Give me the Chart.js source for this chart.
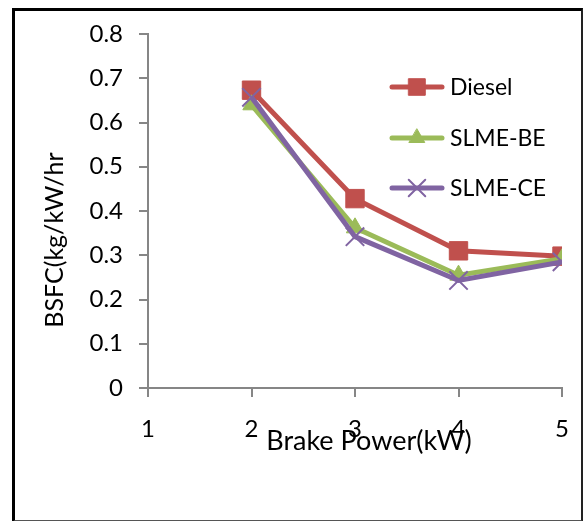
<!DOCTYPE html>
<html>
<head>
<meta charset="utf-8">
<script src="https://cdn.jsdelivr.net/npm/chart.js@4.4.1/dist/chart.umd.min.js"></script>
<style>
  body { margin: 0; background: #fff; }
  #frame {
    position: absolute; left: 12px; top: 8px; width: 571px; height: 514px;
    box-sizing: border-box;
    border-left: 3px solid #000; border-top: 3px solid #000;
    border-right: 2px solid #222; border-bottom: 2px solid #555;
  }
  #chart { position: absolute; left: 0; top: 0; }
</style>
</head>
<body>
<div id="frame"></div>
<canvas id="chart" width="584" height="521"></canvas>
<script>
const brakePower = [2, 3, 4, 5];
const diesel = [0.673, 0.428, 0.31, 0.298];
const slmeBE = [0.64, 0.362, 0.255, 0.292];
const slmeCE = [0.657, 0.342, 0.243, 0.285];
const seriesNames = ["Diesel", "SLME-BE", "SLME-CE"];
const xTickValues = [1, 2, 3, 4, 5];
const yTickValues = [0, 0.1, 0.2, 0.3, 0.4, 0.5, 0.6, 0.7, 0.8];
const xTitle = "Brake Power(kW)";
const yTitle = "BSFC(kg/kW/hr";

const FONT = "Lato, Carlito, Calibri, sans-serif";
const AXIS_GRAY = "#868686";

function toPoints(values) {
  return values.map((v, i) => ({ x: brakePower[i], y: v }));
}

const styles = [
  { color: "#C0504D", pointStyle: "rect", pointRadius: 13, order: 3 },
  { color: "#9BBB59", pointStyle: "triangle", pointRadius: 10, order: 2 },
  { color: "#8064A2", pointStyle: "crossRot", pointRadius: 13, order: 1 }
];
const seriesValues = [diesel, slmeBE, slmeCE];

const datasets = seriesValues.map((vals, i) => ({
  label: seriesNames[i],
  data: toPoints(vals),
  borderColor: styles[i].color,
  backgroundColor: styles[i].color,
  borderWidth: 5,
  pointStyle: styles[i].pointStyle,
  pointRadius: styles[i].pointRadius,
  pointBorderWidth: styles[i].pointStyle === "crossRot" ? 2 : 1,
  pointBorderColor: styles[i].color,
  pointBackgroundColor: styles[i].color,
  order: styles[i].order,
  tension: 0
}));

// legend inside the plot + axis titles placed like the Excel original
const overlay = {
  id: "overlay",
  afterDraw(chart) {
    const ctx = chart.ctx;
    ctx.save();
    ctx.fillStyle = "#000";
    ctx.textAlign = "center";
    ctx.textBaseline = "middle";
    ctx.font = "27px " + FONT;
    ctx.fillText(xTitle, 369, 441);
    ctx.font = "25px " + FONT;
    ctx.translate(55, 240);
    ctx.rotate(-Math.PI / 2);
    ctx.fillText(yTitle, 0, 0);
    ctx.restore();

    const legendY = [87, 138, 188];
    chart.data.datasets.forEach((ds, i) => {
      const y = legendY[i];
      ctx.save();
      ctx.strokeStyle = ds.borderColor;
      ctx.lineWidth = 5;
      ctx.lineCap = "round";
      ctx.beginPath();
      ctx.moveTo(392, y);
      ctx.lineTo(442, y);
      ctx.stroke();
      ctx.fillStyle = ds.pointBackgroundColor;
      ctx.strokeStyle = ds.pointBorderColor;
      ctx.lineWidth = ds.pointBorderWidth;
      Chart.helpers.drawPoint(ctx, {
        pointStyle: ds.pointStyle,
        radius: ds.pointRadius * 0.9,
        rotation: 0,
        borderWidth: ds.pointBorderWidth
      }, 417, y);
      ctx.fillStyle = "#000";
      ctx.font = "23px " + FONT;
      ctx.textAlign = "left";
      ctx.textBaseline = "middle";
      ctx.fillText(ds.label, 450, y + 1);
      ctx.restore();
    });
  }
};

new Chart(document.getElementById("chart"), {
  type: "line",
  data: { datasets: datasets },
  options: {
    responsive: false,
    animation: false,
    layout: { padding: { left: 0, right: 22, top: 34, bottom: 0 } },
    plugins: { legend: { display: false }, tooltip: { enabled: false } },
    scales: {
      x: {
        type: "linear",
        min: 1,
        max: 5,
        afterBuildTicks: (scale) => { scale.ticks = xTickValues.map(v => ({ value: v })); },
        afterFit: (scale) => {
          scale.height = 521 - 388;
          scale.paddingRight = 8;
        },
        ticks: { color: "#000", font: { family: FONT, size: 24 }, padding: 18 },
        grid: { drawOnChartArea: false, drawTicks: true, tickLength: 9, color: AXIS_GRAY, lineWidth: 2 },
        border: { color: AXIS_GRAY, width: 2 }
      },
      y: {
        min: 0,
        max: 0.8,
        afterBuildTicks: (scale) => { scale.ticks = yTickValues.map(v => ({ value: v })); },
        afterFit: (scale) => { scale.width = 148; },
        ticks: {
          color: "#000",
          font: { family: FONT, size: 24 },
          padding: 16,
          callback: (v) => (v === 0 ? "0" : v.toFixed(1))
        },
        grid: { drawOnChartArea: false, drawTicks: true, tickLength: 9, color: AXIS_GRAY, lineWidth: 2 },
        border: { color: AXIS_GRAY, width: 2 }
      }
    }
  },
  plugins: [overlay]
});
</script>
</body>
</html>
